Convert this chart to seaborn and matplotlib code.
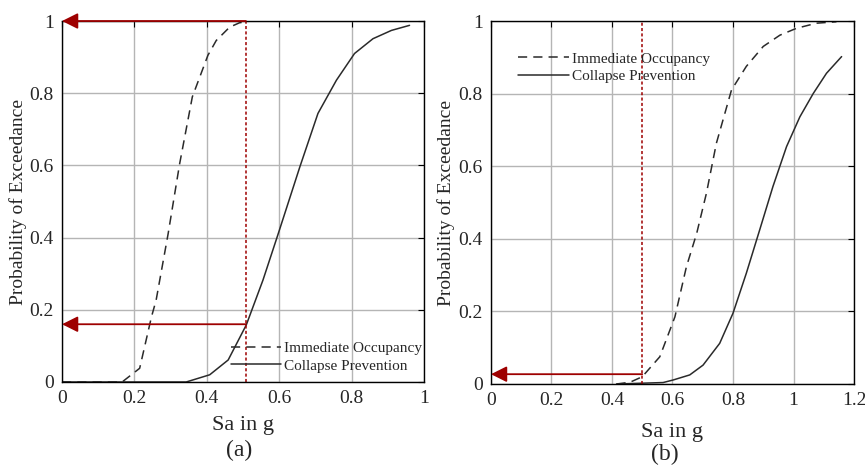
import numpy as np
import pandas as pd
import matplotlib
matplotlib.use("Agg")
import matplotlib.pyplot as plt
import seaborn as sns
from matplotlib.ticker import FormatStrFormatter

# fragility curves
# panel (a)
a_io_x = [0.0, 0.166, 0.2145, 0.247, 0.26, 0.293, 0.325, 0.36, 0.403, 0.426, 0.463, 0.49, 0.518, 0.6, 0.8, 0.96]
a_io_y = [0.0, 0.0, 0.038, 0.18, 0.227, 0.41, 0.605, 0.79, 0.905, 0.946, 0.983, 0.995, 1.0, 1.0, 1.0, 1.0]
a_cp_x = [0.0, 0.343, 0.408, 0.459, 0.509, 0.555, 0.597, 0.657, 0.707, 0.758, 0.808, 0.859, 0.91, 0.96]
a_cp_y = [0.0, 0.0, 0.02, 0.061, 0.158, 0.282, 0.41, 0.596, 0.744, 0.836, 0.91, 0.951, 0.974, 0.988]
# panel (b)
b_io_x = [0.415, 0.46, 0.5, 0.558, 0.608, 0.646, 0.68, 0.712, 0.745, 0.795, 0.844, 0.9, 0.955, 1.01, 1.076, 1.142]
b_io_y = [0.0, 0.005, 0.02, 0.075, 0.185, 0.323, 0.415, 0.525, 0.663, 0.81, 0.875, 0.93, 0.961, 0.98, 0.994, 0.998]
b_cp_x = [0.415, 0.569, 0.602, 0.657, 0.701, 0.756, 0.8, 0.844, 0.888, 0.932, 0.977, 1.021, 1.065, 1.109, 1.159]
b_cp_y = [0.0, 0.004, 0.011, 0.025, 0.052, 0.112, 0.195, 0.305, 0.424, 0.544, 0.654, 0.736, 0.8, 0.856, 0.902]

# demand lines / read-off values
a_sa, a_p_io, a_p_cp = 0.508, 1.0, 0.16
b_sa, b_p_io = 0.5, 0.027

labels = ["Immediate Occupancy", "Collapse Prevention"]

sns.set_style("whitegrid")
plt.rcParams["font.family"] = ["Liberation Serif", "DejaVu Serif"]
plt.rcParams["xtick.direction"] = "in"
plt.rcParams["ytick.direction"] = "in"

def frame(io_x, io_y, cp_x, cp_y):
    d1 = pd.DataFrame({"Sa": io_x, "P": io_y, "state": labels[0]})
    d2 = pd.DataFrame({"Sa": cp_x, "P": cp_y, "state": labels[1]})
    return pd.concat([d1, d2], ignore_index=True)

fig = plt.figure(figsize=(8.65, 4.65), dpi=100)
ax1 = fig.add_axes([0.0717, 0.1785, 0.4185, 0.7763])
ax2 = fig.add_axes([0.5676, 0.1742, 0.4197, 0.7806])

red = "#9e0000"

def style(ax, xmax, xstep):
    ax.set_xlim(0, xmax)
    ax.set_ylim(0, 1)
    ax.set_xticks(np.arange(0, xmax + 1e-9, xstep))
    ax.set_yticks(np.arange(0, 1.01, 0.2))
    ax.xaxis.set_major_formatter(FormatStrFormatter("%g"))
    ax.yaxis.set_major_formatter(FormatStrFormatter("%g"))
    ax.grid(True, color="#b5b5b5", lw=1.0)
    for s in ax.spines.values():
        s.set_color("black")
        s.set_linewidth(1.0)
    ax.tick_params(labelsize=14, length=4, color="black", top=True, right=True, pad=6)
    ax.set_ylabel("Probability of Exceedance", fontsize=14, labelpad=2)

for ax, df in [(ax1, frame(a_io_x, a_io_y, a_cp_x, a_cp_y)),
               (ax2, frame(b_io_x, b_io_y, b_cp_x, b_cp_y))]:
    sns.lineplot(data=df, x="Sa", y="P", hue="state", style="state",
                 palette=["#2a2a2a", "#2a2a2a"], dashes=[(6, 4), ""],
                 linewidth=1.1, ax=ax, sort=False)

style(ax1, 1.0, 0.2)
style(ax2, 1.2, 0.2)

ax1.set_xlabel("Sa in g", fontsize=16, labelpad=6)
ax2.set_xlabel("Sa in g", fontsize=16, labelpad=10)
fig.text(239 / 865, 1 - 450 / 465, "(a)", fontsize=17, ha="center", va="center")
fig.text(665 / 865, 1 - 454 / 465, "(b)", fontsize=17, ha="center", va="center")

# red demand lines and arrows
ax1.axvline(a_sa, color=red, lw=1.1, ls=(0, (2, 1.5)))
ax2.axvline(b_sa, color=red, lw=1.1, ls=(0, (2, 1.5)))
arrow = dict(arrowstyle="-|>", color=red, lw=1.3, mutation_scale=24, shrinkA=0, shrinkB=0)
ax1.annotate("", xy=(0.0, a_p_io), xytext=(a_sa, a_p_io), arrowprops=arrow, annotation_clip=False)
ax1.annotate("", xy=(0.0, a_p_cp), xytext=(a_sa, a_p_cp), arrowprops=arrow)
ax2.annotate("", xy=(0.0, b_p_io), xytext=(b_sa, b_p_io), arrowprops=arrow)

leg_kw = dict(frameon=False, fontsize=11, handlelength=3.3, handletextpad=0.2,
              labelspacing=0.25, borderaxespad=0.2)
ax1.legend(loc="lower right", bbox_to_anchor=(1.02, 0.0), **leg_kw)
ax2.legend(loc="upper left", bbox_to_anchor=(0.05, 0.94), **leg_kw)

fig.savefig("out.png", dpi=100)
